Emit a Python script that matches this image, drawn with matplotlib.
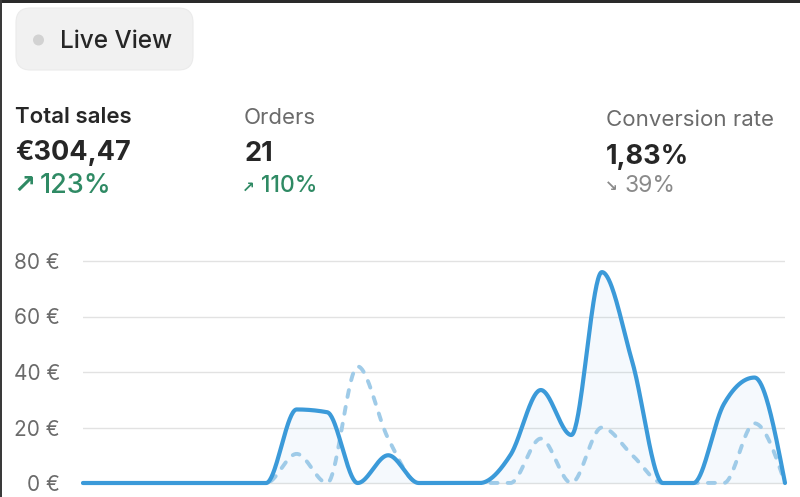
import numpy as np
import matplotlib
matplotlib.use("Agg")
import matplotlib.pyplot as plt
from matplotlib.patches import FancyBboxPatch, Ellipse, Rectangle

# ---- data ----
hours = list(range(24))
current_sales = [0, 0, 0, 0, 0, 0, 0, 26.5, 25.5, 0, 10, 0, 0, 0, 10, 33.5, 17.3, 76, 43.5, 0, 0, 28.5, 38, 0]
previous_sales = [0, 0, 0, 0, 0, 0, 0, 10.5, 0, 42, 16, 0, 0, 0, 0, 16, 0, 20, 10, 0, 0, 0, 21.5, 0]
yticks = [0, 20, 40, 60, 80]
ytick_labels = ["0 €", "20 €", "40 €", "60 €", "80 €"]

metric_titles = ["Total sales", "Orders", "Conversion rate"]
metric_values = ["€304,47", "21", "1,83%"]
metric_changes = ["123%", "110%", "39%"]


def monotone(x, y, n=40):
    x = np.asarray(x, float)
    y = np.asarray(y, float)
    h = np.diff(x)
    s = np.diff(y) / h
    m = np.zeros_like(y)
    for i in range(1, len(y) - 1):
        s0, s1 = s[i - 1], s[i]
        p = (s0 * h[i] + s1 * h[i - 1]) / (h[i - 1] + h[i])
        m[i] = (np.sign(s0) + np.sign(s1)) * min(abs(s0), abs(s1), 0.5 * abs(p))
    m[0] = (3 * s[0] - m[1]) / 2 if len(y) > 2 else s[0]
    m[-1] = (3 * s[-1] - m[-2]) / 2 if len(y) > 2 else s[-1]
    xs, ys = [], []
    for i in range(len(x) - 1):
        t = np.linspace(0, 1, n, endpoint=(i == len(x) - 2))
        h00 = 2 * t**3 - 3 * t**2 + 1
        h10 = t**3 - 2 * t**2 + t
        h01 = -2 * t**3 + 3 * t**2
        h11 = t**3 - t**2
        xs.append(x[i] + t * h[i])
        ys.append(h00 * y[i] + h10 * h[i] * m[i] + h01 * y[i + 1] + h11 * h[i] * m[i + 1])
    return np.concatenate(xs), np.concatenate(ys)


W, H = 800, 497
fig = plt.figure(figsize=(W / 100, H / 100), dpi=100)
fig.patch.set_facecolor("white")


def fx(px):
    return px / W


def fy(py):
    return 1 - py / H


# borders of screenshot
fig.patches.append(Rectangle((0, fy(3)), 1, 3 / H, transform=fig.transFigure,
                             facecolor="#2a2a2a", edgecolor="none", zorder=10))
fig.patches.append(Rectangle((0, 0), 2 / W, 1, transform=fig.transFigure,
                             facecolor="#3a3a3a", edgecolor="none", zorder=10))

# Live View pill
fig.patches.append(FancyBboxPatch((fx(16), fy(70)), (193 - 16) / W, 62 / H,
                                  boxstyle="round,pad=0,rounding_size=0.018",
                                  transform=fig.transFigure, facecolor="#f1f1f1",
                                  edgecolor="#ebebeb", lw=0.8, mutation_aspect=W / H))
fig.patches.append(Ellipse((fx(38.5), fy(40)), 11 / W, 11 / H, transform=fig.transFigure,
                           facecolor="#d2d2d2", edgecolor="none"))
fig.text(fx(60), fy(42), "Live View", fontsize=17.5, color="#262626",
         va="center", ha="left", family="Inter", fontweight="medium")

# metrics
xs_m = [15, 244, 606]
title_y = [117, 118, 120]
value_y = [153, 154, 157]
title_colors = ["#262626", "#6b6b6b", "#6b6b6b"]
title_weights = ["semibold", "normal", "normal"]
for i in range(3):
    fig.text(fx(xs_m[i]), fy(title_y[i]), metric_titles[i], fontsize=16, color=title_colors[i],
             va="center", ha="left", family="Inter", fontweight=title_weights[i])
    fig.text(fx(xs_m[i]), fy(value_y[i]), metric_values[i], fontsize=19.5, color="#262626",
             va="center", ha="left", family="Inter", fontweight="bold")

fig.text(fx(13), fy(186), "↗", fontsize=19, color="#2f8a64", va="center", ha="left",
         family="DejaVu Sans", fontweight="bold")
fig.text(fx(40), fy(186), metric_changes[0], fontsize=19.5, color="#2f8a64", va="center",
         ha="left", family="Inter", fontweight="medium")
fig.text(fx(242), fy(187), "↗", fontsize=11, color="#2f8a64", va="center", ha="left",
         family="DejaVu Sans", fontweight="bold")
fig.text(fx(261), fy(186), metric_changes[1], fontsize=16.5, color="#2f8a64", va="center",
         ha="left", family="Inter", fontweight="medium")
fig.text(fx(605), fy(187), "↘", fontsize=11, color="#8a8a8a", va="center", ha="left",
         family="DejaVu Sans", fontweight="bold")
fig.text(fx(625), fy(186), metric_changes[2], fontsize=16.5, color="#8a8a8a", va="center",
         ha="left", family="Inter")

# chart axes: 0 -> y=483px, 80 -> y=261px
ppu = (483 - 261) / 80.0
top_px, bot_px = 250, 490
ymin = -(bot_px - 483) / ppu
ymax = 80 + (261 - top_px) / ppu
ax = fig.add_axes([fx(83), fy(bot_px), (785 - 83) / W, (bot_px - top_px) / H])
ax.set_xlim(0, 23)
ax.set_ylim(ymin, ymax)
for sp in ax.spines.values():
    sp.set_visible(False)
ax.set_xticks([])
ax.set_yticks(yticks)
ax.set_yticklabels(ytick_labels)
ax.tick_params(axis="y", length=0, pad=16.5, labelsize=15, labelcolor="#6b6b6b")
for lab in ax.get_yticklabels():
    lab.set_family("Inter")
ax.grid(axis="y", color="#e2e2e2", lw=1)
ax.set_axisbelow(True)
ax.patch.set_alpha(0)

xc, yc = monotone(hours, current_sales)
xp, yp = monotone(hours, previous_sales)

ax.fill_between(xc, 0, yc, color="#4a9fe0", alpha=0.055, lw=0, zorder=1)
ax.plot(xp, yp, color="#9fcbe8", lw=2.8, linestyle=(0, (1.8, 2.6)),
        dash_capstyle="round", solid_capstyle="round", clip_on=False, zorder=2)
ax.plot(xc, yc, color="#3b9ad9", lw=3.0, solid_capstyle="round",
        solid_joinstyle="round", clip_on=False, zorder=3)

fig.savefig("out.png", dpi=100)
